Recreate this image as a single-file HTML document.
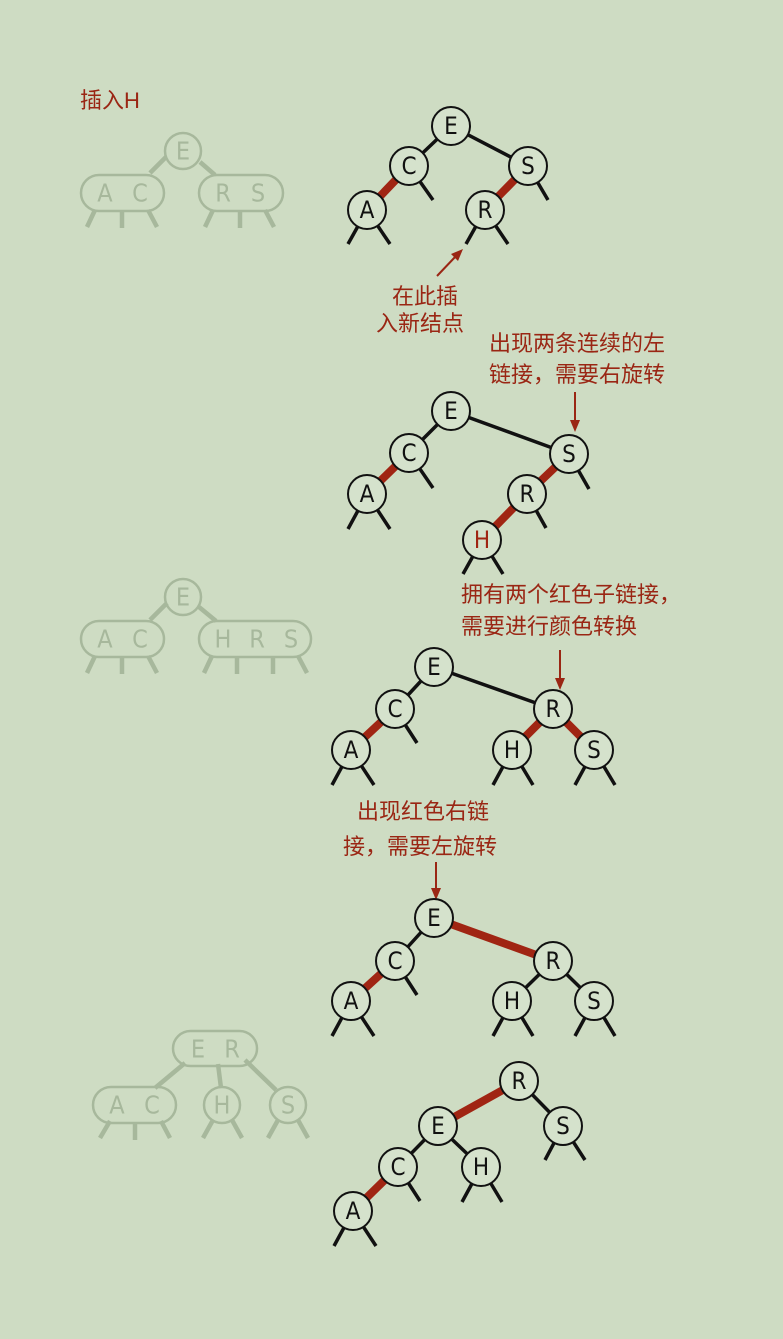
<!DOCTYPE html>
<html><head><meta charset="utf-8"><style>
html,body{margin:0;padding:0;background:#cedcc3;}
svg{display:block}
.n circle{fill:#d5e2cc;stroke:#111;stroke-width:2}
.n text{font-family:"DejaVu Sans Condensed","Liberation Sans",sans-serif;font-size:24px;fill:#111;text-anchor:middle;dominant-baseline:central}
.b{stroke:#111;stroke-width:3.5;fill:none}
.r{stroke:#a02513;stroke-width:8;fill:none}
.g{stroke:#a7b89c;fill:none;stroke-width:4.5}
.gn{fill:none;stroke:#a7b89c;stroke-width:2.5}
.gt{font-family:"DejaVu Sans Condensed","Liberation Sans",sans-serif;font-size:25px;fill:#a7b89c;text-anchor:middle;dominant-baseline:central}
.ann{font-family:"Liberation Sans","Noto Sans CJK SC",sans-serif;font-size:22px;fill:#9a2614}
.ar{stroke:#9a2614;stroke-width:2;fill:none}
.ah{fill:#9a2614}
</style></head><body>
<svg width="783" height="1339" viewBox="0 0 783 1339" xmlns="http://www.w3.org/2000/svg">
<text class="ann" x="80" y="108" font-size="21">插入H</text>

<!-- gray tree 1 -->
<g>
<line class="g" x1="166" y1="157" x2="150" y2="173"/><line class="g" x1="200" y1="162" x2="215" y2="175"/>
<line class="g" x1="95" y1="210" x2="87" y2="227"/><line class="g" x1="122" y1="210" x2="122" y2="228"/><line class="g" x1="148" y1="210" x2="157" y2="227"/>
<line class="g" x1="213" y1="210" x2="205" y2="227"/><line class="g" x1="240" y1="210" x2="240" y2="228"/><line class="g" x1="265" y1="210" x2="274" y2="227"/>
<circle class="gn" cx="183" cy="151" r="18"/><text class="gt" x="183" y="151">E</text>
<rect class="gn" x="81" y="175" width="83" height="36" rx="18"/><text class="gt" x="105" y="193">A</text><text class="gt" x="140" y="193">C</text>
<rect class="gn" x="199" y="175" width="84" height="36" rx="18"/><text class="gt" x="223" y="193">R</text><text class="gt" x="258" y="193">S</text>
</g>

<!-- tree 1 -->
<g>
<line class="b" x1="451" y1="126" x2="409" y2="166"/><line class="b" x1="451" y1="126" x2="528" y2="166"/>
<line class="r" x1="409" y1="166" x2="367" y2="210"/><line class="b" x1="409" y1="166" x2="433" y2="200"/>
<line class="r" x1="528" y1="166" x2="485" y2="210"/><line class="b" x1="528" y1="166" x2="548" y2="200"/>
<line class="b" x1="367" y1="210" x2="348" y2="244"/><line class="b" x1="367" y1="210" x2="390" y2="244"/>
<line class="b" x1="485" y1="210" x2="466" y2="244"/><line class="b" x1="485" y1="210" x2="508" y2="244"/>
<g class="n"><circle cx="451" cy="126" r="19"/><text x="451" y="126">E</text>
<circle cx="409" cy="166" r="19"/><text x="409" y="166">C</text>
<circle cx="528" cy="166" r="19"/><text x="528" y="166">S</text>
<circle cx="367" cy="210" r="19"/><text x="367" y="210">A</text>
<circle cx="485" cy="210" r="19"/><text x="485" y="210">R</text></g>
</g>
<line class="ar" x1="437" y1="276" x2="456" y2="256"/><polygon class="ah" points="463,249 451,254 458,261"/>
<text class="ann" x="392" y="304">在此插</text>
<text class="ann" x="376" y="331">入新结点</text>
<text class="ann" x="489" y="351">出现两条连续的左</text>
<text class="ann" x="489" y="382">链接，需要右旋转</text>
<line class="ar" x1="575" y1="392" x2="575" y2="422"/><polygon class="ah" points="575,432 570,420 580,420"/>

<!-- tree 2 -->
<g>
<line class="b" x1="451" y1="411" x2="409" y2="453"/><line class="b" x1="451" y1="411" x2="569" y2="454"/>
<line class="r" x1="409" y1="453" x2="367" y2="494"/><line class="b" x1="409" y1="453" x2="433" y2="488"/>
<line class="r" x1="569" y1="454" x2="527" y2="494"/><line class="b" x1="569" y1="454" x2="589" y2="489"/>
<line class="r" x1="527" y1="494" x2="482" y2="540"/><line class="b" x1="527" y1="494" x2="546" y2="528"/>
<line class="b" x1="367" y1="494" x2="348" y2="529"/><line class="b" x1="367" y1="494" x2="390" y2="529"/>
<line class="b" x1="482" y1="540" x2="463" y2="574"/><line class="b" x1="482" y1="540" x2="503" y2="574"/>
<g class="n"><circle cx="451" cy="411" r="19"/><text x="451" y="411">E</text>
<circle cx="409" cy="453" r="19"/><text x="409" y="453">C</text>
<circle cx="569" cy="454" r="19"/><text x="569" y="454">S</text>
<circle cx="367" cy="494" r="19"/><text x="367" y="494">A</text>
<circle cx="527" cy="494" r="19"/><text x="527" y="494">R</text>
<circle cx="482" cy="540" r="19"/><text x="482" y="540" style="fill:#a02513">H</text></g>
</g>

<!-- gray tree 2 -->
<g>
<line class="g" x1="167" y1="603" x2="150" y2="620"/><line class="g" x1="199" y1="607" x2="216" y2="621"/>
<line class="g" x1="95" y1="656" x2="87" y2="673"/><line class="g" x1="122" y1="656" x2="122" y2="674"/><line class="g" x1="148" y1="656" x2="157" y2="673"/>
<line class="g" x1="212" y1="656" x2="204" y2="673"/><line class="g" x1="237" y1="656" x2="237" y2="674"/><line class="g" x1="273" y1="656" x2="273" y2="674"/><line class="g" x1="298" y1="656" x2="307" y2="673"/>
<circle class="gn" cx="183" cy="597" r="18"/><text class="gt" x="183" y="597">E</text>
<rect class="gn" x="81" y="621" width="83" height="36" rx="18"/><text class="gt" x="105" y="639">A</text><text class="gt" x="140" y="639">C</text>
<rect class="gn" x="199" y="621" width="112" height="36" rx="18"/><text class="gt" x="223" y="639">H</text><text class="gt" x="257" y="639">R</text><text class="gt" x="291" y="639">S</text>
</g>
<text class="ann" x="461" y="602">拥有两个红色子链接，</text>
<text class="ann" x="461" y="634">需要进行颜色转换</text>
<line class="ar" x1="560" y1="650" x2="560" y2="680"/><polygon class="ah" points="560,690 555,678 565,678"/>

<!-- tree 3 -->
<g>
<line class="b" x1="434" y1="667" x2="395" y2="709"/><line class="b" x1="434" y1="667" x2="553" y2="709"/>
<line class="r" x1="395" y1="709" x2="351" y2="750"/><line class="b" x1="395" y1="709" x2="417" y2="743"/>
<line class="r" x1="553" y1="709" x2="512" y2="750"/><line class="r" x1="553" y1="709" x2="594" y2="750"/>
<line class="b" x1="351" y1="750" x2="332" y2="785"/><line class="b" x1="351" y1="750" x2="374" y2="785"/>
<line class="b" x1="512" y1="750" x2="493" y2="785"/><line class="b" x1="512" y1="750" x2="533" y2="785"/>
<line class="b" x1="594" y1="750" x2="575" y2="785"/><line class="b" x1="594" y1="750" x2="615" y2="785"/>
<g class="n"><circle cx="434" cy="667" r="19"/><text x="434" y="667">E</text>
<circle cx="395" cy="709" r="19"/><text x="395" y="709">C</text>
<circle cx="553" cy="709" r="19"/><text x="553" y="709">R</text>
<circle cx="351" cy="750" r="19"/><text x="351" y="750">A</text>
<circle cx="512" cy="750" r="19"/><text x="512" y="750">H</text>
<circle cx="594" cy="750" r="19"/><text x="594" y="750">S</text></g>
</g>
<text class="ann" x="357" y="819">出现红色右链</text>
<text class="ann" x="343" y="854">接，需要左旋转</text>
<line class="ar" x1="436" y1="862" x2="436" y2="890"/><polygon class="ah" points="436,900 431,888 441,888"/>

<!-- tree 4 -->
<g>
<line class="b" x1="434" y1="918" x2="395" y2="961"/><line class="r" x1="434" y1="918" x2="553" y2="961"/>
<line class="r" x1="395" y1="961" x2="351" y2="1001"/><line class="b" x1="395" y1="961" x2="417" y2="995"/>
<line class="b" x1="553" y1="961" x2="512" y2="1001"/><line class="b" x1="553" y1="961" x2="594" y2="1001"/>
<line class="b" x1="351" y1="1001" x2="332" y2="1036"/><line class="b" x1="351" y1="1001" x2="374" y2="1036"/>
<line class="b" x1="512" y1="1001" x2="493" y2="1036"/><line class="b" x1="512" y1="1001" x2="533" y2="1036"/>
<line class="b" x1="594" y1="1001" x2="575" y2="1036"/><line class="b" x1="594" y1="1001" x2="615" y2="1036"/>
<g class="n"><circle cx="434" cy="918" r="19"/><text x="434" y="918">E</text>
<circle cx="395" cy="961" r="19"/><text x="395" y="961">C</text>
<circle cx="553" cy="961" r="19"/><text x="553" y="961">R</text>
<circle cx="351" cy="1001" r="19"/><text x="351" y="1001">A</text>
<circle cx="512" cy="1001" r="19"/><text x="512" y="1001">H</text>
<circle cx="594" cy="1001" r="19"/><text x="594" y="1001">S</text></g>
</g>

<!-- gray tree 3 -->
<g>
<line class="g" x1="185" y1="1063" x2="155" y2="1088"/><line class="g" x1="218" y1="1064" x2="221" y2="1088"/><line class="g" x1="245" y1="1060" x2="276" y2="1090"/>
<line class="g" x1="110" y1="1121" x2="100" y2="1138"/><line class="g" x1="135" y1="1122" x2="135" y2="1140"/><line class="g" x1="161" y1="1121" x2="170" y2="1138"/>
<line class="g" x1="213" y1="1120" x2="203" y2="1138"/><line class="g" x1="232" y1="1120" x2="242" y2="1138"/>
<line class="g" x1="278" y1="1120" x2="268" y2="1138"/><line class="g" x1="298" y1="1120" x2="308" y2="1138"/>
<rect class="gn" x="173" y="1031" width="84" height="35" rx="17.5"/><text class="gt" x="198" y="1049">E</text><text class="gt" x="232" y="1049">R</text>
<rect class="gn" x="93" y="1087" width="83" height="36" rx="18"/><text class="gt" x="117" y="1105">A</text><text class="gt" x="152" y="1105">C</text>
<circle class="gn" cx="222" cy="1105" r="18"/><text class="gt" x="222" y="1105">H</text>
<circle class="gn" cx="288" cy="1105" r="18"/><text class="gt" x="288" y="1105">S</text>
</g>

<!-- tree 5 -->
<g>
<line class="r" x1="519" y1="1081" x2="438" y2="1126"/><line class="b" x1="519" y1="1081" x2="563" y2="1126"/>
<line class="b" x1="438" y1="1126" x2="398" y2="1167"/><line class="b" x1="438" y1="1126" x2="481" y2="1167"/>
<line class="r" x1="398" y1="1167" x2="353" y2="1211"/><line class="b" x1="398" y1="1167" x2="420" y2="1201"/>
<line class="b" x1="563" y1="1126" x2="545" y2="1160"/><line class="b" x1="563" y1="1126" x2="585" y2="1160"/>
<line class="b" x1="481" y1="1167" x2="462" y2="1202"/><line class="b" x1="481" y1="1167" x2="502" y2="1202"/>
<line class="b" x1="353" y1="1211" x2="334" y2="1246"/><line class="b" x1="353" y1="1211" x2="376" y2="1246"/>
<g class="n"><circle cx="519" cy="1081" r="19"/><text x="519" y="1081">R</text>
<circle cx="438" cy="1126" r="19"/><text x="438" y="1126">E</text>
<circle cx="563" cy="1126" r="19"/><text x="563" y="1126">S</text>
<circle cx="398" cy="1167" r="19"/><text x="398" y="1167">C</text>
<circle cx="481" cy="1167" r="19"/><text x="481" y="1167">H</text>
<circle cx="353" cy="1211" r="19"/><text x="353" y="1211">A</text></g>
</g>
</svg>
</body></html>
